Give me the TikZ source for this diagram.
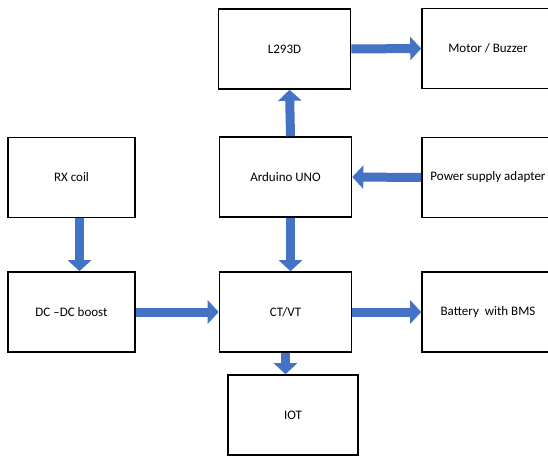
\documentclass[tikz,border=0pt]{standalone}
\usepackage{fontspec}
\setmainfont{Carlito}
\usetikzlibrary{arrows.meta}
\definecolor{arrowblue}{RGB}{68,114,196}
\begin{document}
\begin{tikzpicture}[x=1pt, y=-1pt, block/.style={draw=black, line width=1.6pt, fill=white, minimum width=132pt, minimum height=80pt, inner sep=0pt, font=\fontsize{13}{15}\selectfont}, flow/.style={draw=arrowblue, line width=9pt, -{Triangle[length=11pt,width=23pt]}, arrowblue}]
      \useasboundingbox (0,0) rectangle (548,457);
      \clip (0,0) rectangle (548,457);
      \node[block] (l293) at (284.5, 49) {L293D};
      \node[block] (motor) at (488, 48.5) {Motor / Buzzer};
      \node[block, minimum width=127pt] (rx) at (71.5, 177.5) {RX coil};
      \node[block] (ard) at (285.5, 177) {Arduino UNO};
      \node[block] (psu) at (488, 177.5) {Power supply adapter};
      \node[block, minimum width=127pt] (dcdc) at (71.5, 312) {DC –DC boost};
      \node[block] (ctvt) at (285.5, 312) {CT/VT};
      \node[block] (batt) at (488, 312) {Battery\ \ with BMS};
      \node[block, minimum width=130pt] (iot) at (293, 415) {IOT};

      \draw[flow] (l293.east) -- (motor.west);
      \draw[flow] ([xshift=5pt]ard.north) -- ([xshift=5pt]l293.south);
      \draw[flow] (psu.west) -- (ard.east);
      \draw[flow] ([xshift=8pt]rx.south) -- ([xshift=8pt]dcdc.north);
      \draw[flow] ([xshift=5pt]ard.south) -- ([xshift=5pt]ctvt.north);
      \draw[flow] (dcdc.east) -- (ctvt.west);
      \draw[flow] (ctvt.east) -- (batt.west);
      \draw[flow] (ctvt.south) -- (ctvt.south |- iot.north);
    \end{tikzpicture}
\end{document}
